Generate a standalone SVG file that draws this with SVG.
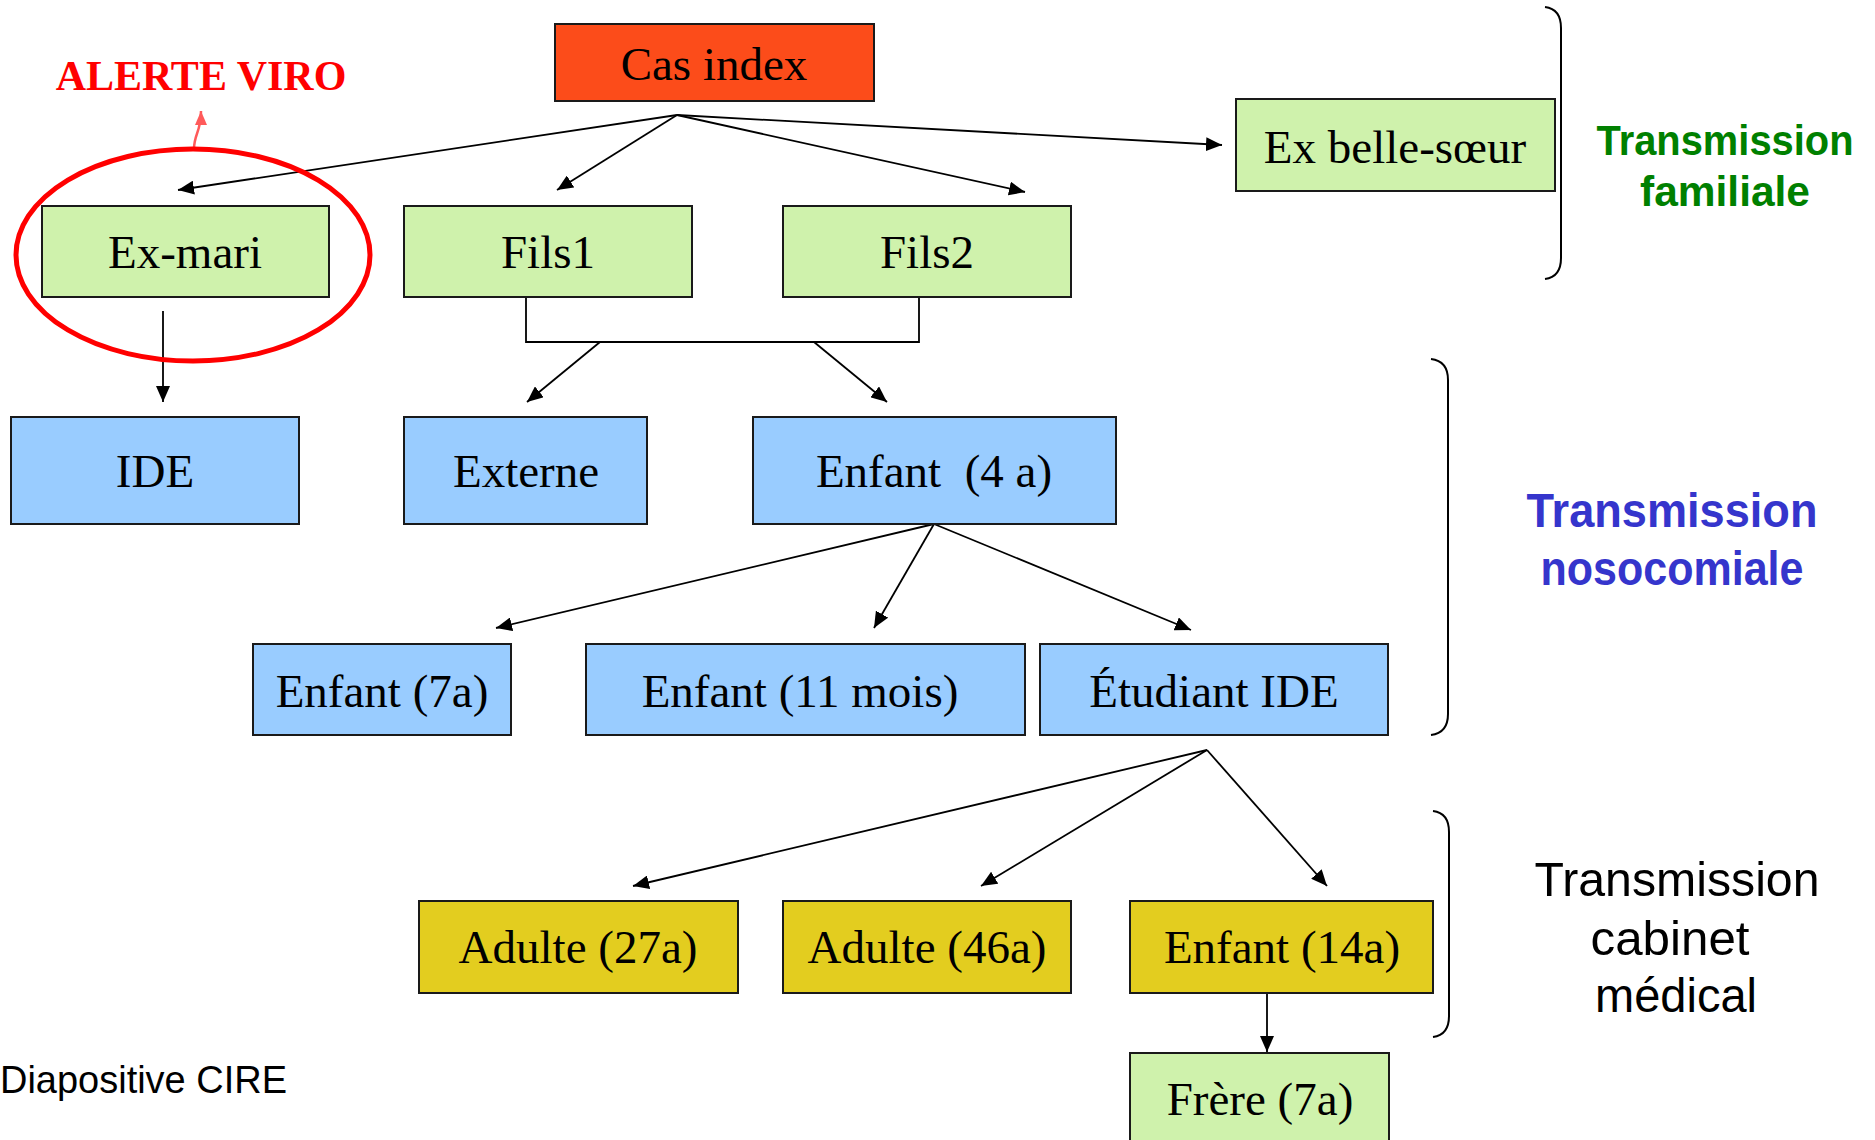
<svg xmlns="http://www.w3.org/2000/svg" width="1875" height="1140" viewBox="0 0 1875 1140">
<style>
.box{stroke:#1a1a1a;stroke-width:2}
.green{fill:#CFF2AC}
.blue{fill:#99CCFF}
.yellow{fill:#E3CD1F}
.red{fill:#FC4C1A}
.lbl{font-family:"Liberation Serif","Times New Roman",serif;font-size:47px;fill:#000;text-anchor:middle}
.conn{stroke:#000;stroke-width:1.8;fill:none}
.brace{stroke:#000;stroke-width:2;fill:none}
.side{font-family:"Liberation Sans",Arial,sans-serif;text-anchor:middle}
</style>
<defs>
<marker id="ah" markerUnits="userSpaceOnUse" markerWidth="16" markerHeight="14" refX="16" refY="7" orient="auto">
<path d="M0,0 L16,7 L0,14 z" fill="#000"/>
</marker>
<marker id="ahr" markerUnits="userSpaceOnUse" markerWidth="14" markerHeight="12" refX="14" refY="6" orient="auto">
<path d="M0,0 L14,6 L0,12 z" fill="#FF5A5A"/>
</marker>
</defs>
<rect width="1875" height="1140" fill="#fff"/>

<g id="connectors">
<line class="conn" x1="677" y1="115" x2="178" y2="190" marker-end="url(#ah)"/>
<line class="conn" x1="677" y1="115" x2="557" y2="190" marker-end="url(#ah)"/>
<line class="conn" x1="677" y1="115" x2="1025" y2="192" marker-end="url(#ah)"/>
<line class="conn" x1="677" y1="115" x2="1222" y2="145" marker-end="url(#ah)"/>
<line class="conn" x1="163" y1="311" x2="163" y2="402" marker-end="url(#ah)"/>
<polyline class="conn" points="526,297 526,342 919,342 919,297"/>
<line class="conn" x1="600" y1="342" x2="527" y2="402" marker-end="url(#ah)"/>
<line class="conn" x1="814" y1="342" x2="887" y2="402" marker-end="url(#ah)"/>
<line class="conn" x1="934" y1="524" x2="496" y2="628" marker-end="url(#ah)"/>
<line class="conn" x1="934" y1="524" x2="874" y2="628" marker-end="url(#ah)"/>
<line class="conn" x1="934" y1="524" x2="1191" y2="630" marker-end="url(#ah)"/>
<line class="conn" x1="1207" y1="750" x2="633" y2="886" marker-end="url(#ah)"/>
<line class="conn" x1="1207" y1="750" x2="981" y2="886" marker-end="url(#ah)"/>
<line class="conn" x1="1207" y1="750" x2="1327" y2="886" marker-end="url(#ah)"/>
<line class="conn" x1="1267" y1="993" x2="1267" y2="1052" marker-end="url(#ah)"/>
<path d="M194,149 C194,134 201,132 201,111" stroke="#FF5A5A" stroke-width="2.5" fill="none" marker-end="url(#ahr)"/>
</g>

<g id="cas-index"><rect class="box red" x="555" y="24" width="319" height="77"/><text class="lbl" x="714" y="80">Cas index</text></g>
<g id="ex-mari"><rect class="box green" x="42" y="206" width="287" height="91"/><text class="lbl" x="185" y="268">Ex-mari</text></g>
<g id="fils1"><rect class="box green" x="404" y="206" width="288" height="91"/><text class="lbl" x="548" y="268">Fils1</text></g>
<g id="fils2"><rect class="box green" x="783" y="206" width="288" height="91"/><text class="lbl" x="927" y="268">Fils2</text></g>
<g id="ex-belle-soeur"><rect class="box green" x="1236" y="99" width="319" height="92"/><text class="lbl" x="1395" y="163">Ex belle-sœur</text></g>

<g id="ide"><rect class="box blue" x="11" y="417" width="288" height="107"/><text class="lbl" x="155" y="487">IDE</text></g>
<g id="externe"><rect class="box blue" x="404" y="417" width="243" height="107"/><text class="lbl" x="526" y="487">Externe</text></g>
<g id="enfant-4a"><rect class="box blue" x="753" y="417" width="363" height="107"/><text class="lbl" x="934" y="487">Enfant&#160; (4 a)</text></g>

<g id="enfant-7a"><rect class="box blue" x="253" y="644" width="258" height="91"/><text class="lbl" x="382" y="707">Enfant (7a)</text></g>
<g id="enfant-11mois"><rect class="box blue" x="586" y="644" width="439" height="91"/><text class="lbl" x="800" y="707">Enfant (11 mois)</text></g>
<g id="etudiant-ide"><rect class="box blue" x="1040" y="644" width="348" height="91"/><text class="lbl" x="1214" y="707">Étudiant IDE</text></g>

<g id="adulte-27a"><rect class="box yellow" x="419" y="901" width="319" height="92"/><text class="lbl" x="578" y="963">Adulte (27a)</text></g>
<g id="adulte-46a"><rect class="box yellow" x="783" y="901" width="288" height="92"/><text class="lbl" x="927" y="963">Adulte (46a)</text></g>
<g id="enfant-14a"><rect class="box yellow" x="1130" y="901" width="303" height="92"/><text class="lbl" x="1282" y="963">Enfant (14a)</text></g>
<g id="frere-7a"><rect class="box green" x="1130" y="1053" width="259" height="95"/><text class="lbl" x="1260" y="1115">Frère (7a)</text></g>

<g id="alerte">
<ellipse cx="193" cy="255" rx="177" ry="106" fill="none" stroke="#FF0000" stroke-width="5"/>
<text x="201" y="90" font-family="Liberation Serif,'Times New Roman',serif" font-weight="bold" font-size="42" fill="#FF0000" text-anchor="middle">ALERTE VIRO</text>
</g>

<g id="braces">
<path class="brace" d="M1545,7 Q1561,9 1561,28 L1561,258 Q1561,277 1545,279"/>
<path class="brace" d="M1431,359 Q1448,361 1448,380 L1448,714 Q1448,733 1431,735"/>
<path class="brace" d="M1433,811 Q1449,813 1449,832 L1449,1016 Q1449,1035 1433,1037"/>
</g>

<g id="labels">
<text class="side" font-weight="bold" font-size="43" fill="#008000"><tspan x="1725" y="155" textLength="257" lengthAdjust="spacingAndGlyphs">Transmission</tspan><tspan x="1725" y="206" textLength="170" lengthAdjust="spacingAndGlyphs">familiale</tspan></text>
<text class="side" font-weight="bold" font-size="49" fill="#3535CC"><tspan x="1672" y="527" textLength="291" lengthAdjust="spacingAndGlyphs">Transmission</tspan><tspan x="1672" y="585" textLength="263" lengthAdjust="spacingAndGlyphs">nosocomiale</tspan></text>
<text class="side" font-size="48" fill="#000"><tspan x="1677" y="896" textLength="285" lengthAdjust="spacingAndGlyphs">Transmission</tspan><tspan x="1670" y="955" textLength="159" lengthAdjust="spacingAndGlyphs">cabinet</tspan><tspan x="1676" y="1012" textLength="162" lengthAdjust="spacingAndGlyphs">médical</tspan></text>
<text font-family="'Liberation Sans',Arial,sans-serif" font-size="39" fill="#000" x="0" y="1093" textLength="287" lengthAdjust="spacingAndGlyphs">Diapositive CIRE</text>
</g>
</svg>
